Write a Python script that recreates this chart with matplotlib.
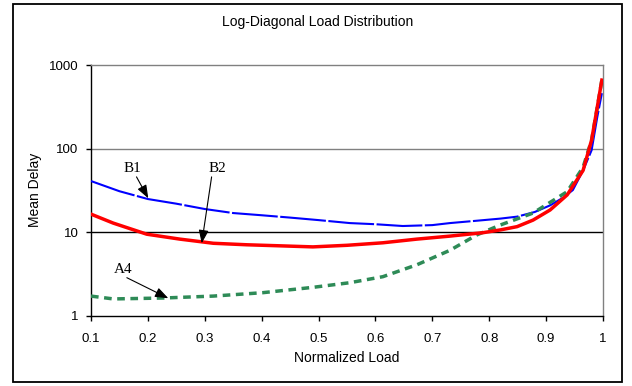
import matplotlib
matplotlib.use("Agg")
import matplotlib.pyplot as plt
from matplotlib.patches import Rectangle

title = "Log-Diagonal Load Distribution"
xlabel = "Normalized Load"
ylabel = "Mean Delay"
xticks = [0.1, 0.2, 0.3, 0.4, 0.5, 0.6, 0.7, 0.8, 0.9, 1.0]
xtick_labels = ["0.1", "0.2", "0.3", "0.4", "0.5", "0.6", "0.7", "0.8", "0.9", "1"]
yticks = [1, 10, 100, 1000]
ytick_labels = ["1", "10", "100", "1000"]

b1_x = [0.10, 0.15, 0.20, 0.25, 0.30, 0.35, 0.40, 0.45, 0.50, 0.555, 0.60, 0.648, 0.70, 0.731, 0.78, 0.82, 0.849, 0.88, 0.907, 0.93, 0.947, 0.965, 0.98, 0.99, 0.998]
b1_y = [41, 31, 25, 22, 19, 17, 16, 15, 14, 12.9, 12.5, 11.9, 12.2, 12.9, 13.8, 14.6, 15.4, 17.5, 21, 26, 32, 55, 96, 240, 460]

b2_x = [0.10, 0.139, 0.198, 0.256, 0.315, 0.374, 0.432, 0.49, 0.55, 0.613, 0.673, 0.73, 0.789, 0.82, 0.849, 0.877, 0.907, 0.937, 0.965, 0.98, 0.99, 0.998]
b2_y = [16.5, 12.9, 9.5, 8.3, 7.4, 7.1, 6.9, 6.7, 7.0, 7.5, 8.3, 9.0, 9.9, 10.7, 11.7, 14, 18.5, 28, 55, 127, 315, 660]

a4_x = [0.10, 0.139, 0.227, 0.315, 0.402, 0.49, 0.555, 0.613, 0.673, 0.731, 0.778, 0.819, 0.877, 0.937, 0.965, 0.98, 0.99, 0.998]
a4_y = [1.73, 1.6, 1.64, 1.73, 1.9, 2.2, 2.5, 2.95, 4.1, 6.1, 9.3, 12.2, 17, 30.6, 60, 127, 315, 660]

ann_labels = ["B1", "B2", "A4"]
ann_text_xy = [(0.172, 58), (0.323, 58), (0.156, 3.55)]
ann_tail_xy = [(0.180, 46), (0.312, 46), (0.163, 2.87)]
ann_tip_xy = [(0.2007, 25.5), (0.2946, 7.4), (0.2359, 1.63)]

fig = plt.figure(figsize=(6.32, 3.86), dpi=100)
fig.patch.set_facecolor("white")
ax = fig.add_axes([91/632, 70/386, 512/632, 251/386])

ax.plot(b1_x, b1_y, color="#0000ff", lw=1.5, dashes=(22, 1.2), zorder=3)
ax.plot(a4_x, a4_y, color="#2e8b57", lw=2.5, dashes=(2.2, 1.6), zorder=4)
ax.plot(b2_x, b2_y, color="#ff0000", lw=2.5, zorder=5)

ax.set_yscale("log")
ax.set_xlim(0.1, 1.0)
ax.set_ylim(1, 1000)
ax.set_xticks(xticks)
ax.set_xticklabels(xtick_labels)
ax.set_yticks(yticks)
ax.set_yticklabels(ytick_labels)
ax.yaxis.set_minor_locator(matplotlib.ticker.NullLocator())
ax.tick_params(axis="both", direction="out", length=3.6, width=1, color="black",
               labelsize=9.5)
ax.tick_params(axis="y", pad=5.5)
ax.tick_params(axis="x", pad=9)
for lab in ax.get_xticklabels() + ax.get_yticklabels():
    lab.set_fontfamily("Liberation Sans")

for yv in [10, 100]:
    ax.axhline(yv, color="#000000" if yv == 10 else "#808080", lw=1, zorder=1)

ax.spines["left"].set_color("black")
ax.spines["bottom"].set_color("black")
ax.spines["top"].set_color("#808080")
ax.spines["right"].set_color("#808080")
for s in ax.spines.values():
    s.set_linewidth(1)

ax.set_xlabel(xlabel, fontsize=10, family="Liberation Sans")
ax.xaxis.set_label_coords((347 - 91) / 512, -(358 - 316) / 251)
ax.set_ylabel(ylabel, fontsize=10, family="Liberation Sans")
ax.yaxis.set_label_coords((35 - 91) / 512, (316 - 190) / 251)
ax.xaxis.label.set_va("center")
ax.yaxis.label.set_va("center")
fig.text(318 / 632, 1 - 22 / 386, title, ha="center", va="center",
         fontsize=10, family="Liberation Sans")

for lab, txy, tail, tip in zip(ann_labels, ann_text_xy, ann_tail_xy, ann_tip_xy):
    ax.text(txy[0], txy[1], lab, ha="center", va="center", fontsize=11,
            family="Liberation Serif", zorder=6)
    ax.annotate("", xy=tip, xytext=tail,
                arrowprops=dict(arrowstyle="-|>,head_length=0.8,head_width=0.3",
                                color="black", lw=0.8, shrinkA=0, shrinkB=0),
                zorder=6)

fig.patches.append(Rectangle((13/632, 4/386), 609/632, 378/386, transform=fig.transFigure,
                             fill=False, edgecolor="black", lw=1.3))

fig.savefig("out.png", dpi=100)
